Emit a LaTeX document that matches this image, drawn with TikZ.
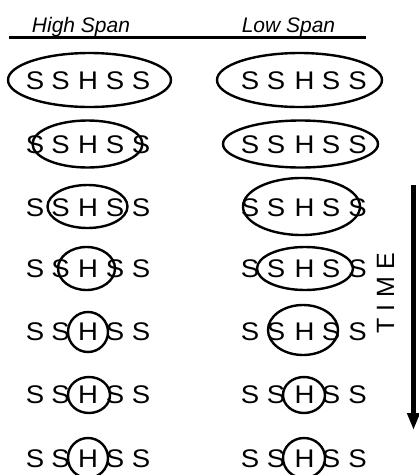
\documentclass[tikz,border=0pt]{standalone}
\usepackage{fontspec}
\setmainfont{Liberation Sans}
\newfontfamily\letterfont[FakeStretch=1.08]{Liberation Sans}
\usetikzlibrary{shapes.geometric,arrows.meta}
\tikzset{
  letter/.style={inner sep=0pt, anchor=base, font=\letterfont\fontsize{25.5}{27}\selectfont},
  head/.style={inner sep=0pt, anchor=base, font=\fontsize{21}{23}\selectfont\itshape},
  ring/.style={draw, ellipse, line width=2.4pt, inner sep=0pt},
  timetext/.style={inner sep=0pt, rotate=90, font=\fontsize{25}{27}\selectfont},
  timearrow/.style={line width=5.5pt, -{Triangle[width=12pt,length=17pt]}}
}
\begin{document}
\begin{tikzpicture}[x=1pt,y=-1pt]
\useasboundingbox (0,0) rectangle (419,475);
% header
\node[head] (hs) at (81,32) {High Span};
\node[head] (ls) at (288.5,32) {Low Span};
\coordinate (rl) at (9,37.5);
\coordinate (rr) at (366,37.5);
\draw[line width=2.5pt] (rl) -- (rr);
% letters
\foreach \r/\y in {1/80,2/144,3/207,4/268,5/331,6/394,7/458}{
  \foreach \i/\x/\c in {1/35/S,2/60.5/S,3/88/H,4/115/S,5/141/S}{
    \node[letter] (L\r-\i) at (\x,\y+9) {\c};
  }
  \foreach \i/\x/\c in {1/250/S,2/276/S,3/304.5/H,4/331/S,5/357.5/S}{
    \node[letter] (R\r-\i) at (\x,\y+9) {\c};
  }
}
% ellipses left
\foreach \r/\cx/\cy/\rx/\ry in {1/89.5/80/81.5/27, 2/87.5/144/55/23.5, 3/87.5/206.5/40/21.5, 4/86.5/268.5/28.5/21.5, 5/88/332/20/20, 6/89/395/21/18, 7/88/458/20/20}{
  \node[ring, minimum width=2*\rx pt, minimum height=2*\ry pt] (EL\r) at (\cx,\cy) {};
}
% ellipses right
\foreach \r/\cx/\cy/\rx/\ry in {1/299.5/80/82.5/27, 2/300.5/144/77.5/23.5, 3/301.5/206.5/58.5/28.5, 4/305/268.5/48/21.5, 5/303/330/35/25, 6/304/395/21/18, 7/304/458/21/20}{
  \node[ring, minimum width=2*\rx pt, minimum height=2*\ry pt] (ER\r) at (\cx,\cy) {};
}
% time arrow
\node[timetext] (time) at (385.5,293) {T I M E};
\coordinate (at) at (413.5,185);
\coordinate (ab) at (413.5,430);
\draw[timearrow] (at) -- (ab);
\end{tikzpicture}
\end{document}
